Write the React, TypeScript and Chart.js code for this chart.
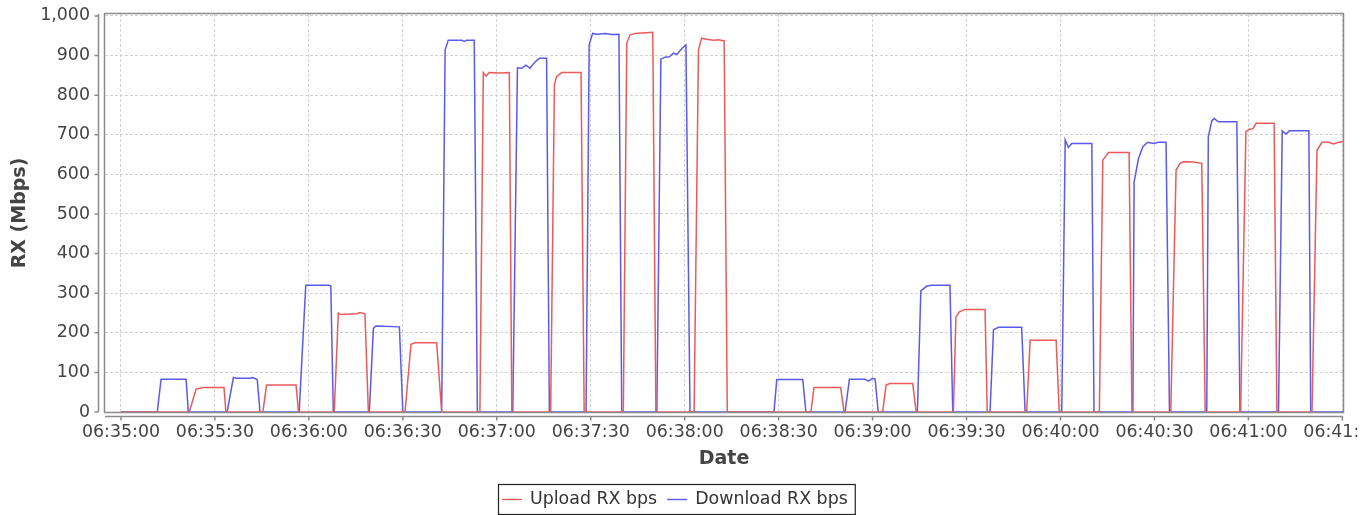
import React, { useEffect, useRef } from "react";
import { Chart, registerables } from "chart.js";

Chart.register(...registerables);

// seconds after 06:35:00
const START_CLOCK_SECONDS = 6 * 3600 + 35 * 60;
const xMinSeconds = -5.1;
const xMaxSeconds = 390.2;
const xTickSeconds = [0, 30, 60, 90, 120, 150, 180, 210, 240, 270, 300, 330, 360, 390];
const yTickValues = [0, 100, 200, 300, 400, 500, 600, 700, 800, 900, 1000];
const yMax = 1005;

const seriesLabels = ["Upload RX bps", "Download RX bps"];
const seriesColors = ["#ec5a5a", "#5a5aec"];

// [seconds after 06:35:00, Mbps]
const uploadPoints: [number, number][] = [
  [0, 0], [21.8, 0], [24.0, 58], [26.3, 62], [32.9, 62], [33.5, 0],
  [45.3, 0], [46.5, 68], [55.9, 68], [56.7, 0],
  [68.1, 0], [69.4, 250], [70.2, 246], [75.3, 248], [76.3, 251], [77.9, 248], [79.0, 0],
  [90.7, 0], [92.6, 171], [93.9, 175], [100.8, 175], [102.4, 0],
  [114.6, 0], [115.7, 857], [116.6, 848], [117.6, 857], [121.0, 856], [124.0, 857], [124.8, 0],
  [137.2, 0], [138.4, 826], [139.1, 847], [140.7, 857], [146.9, 857], [147.9, 0],
  [160.4, 0], [161.5, 931], [162.5, 952], [164.1, 956], [169.8, 959], [170.8, 0],
  [183.0, 0], [184.4, 914], [185.4, 944], [187.0, 941], [189.2, 939], [190.8, 940], [192.6, 937], [193.6, 0],
  [220.3, 0], [221.3, 62], [229.8, 62], [230.9, 0],
  [243.2, 0], [244.3, 68], [245.5, 72], [252.8, 72], [253.9, 0],
  [265.8, 0], [266.6, 240], [267.7, 253], [269.5, 259], [275.9, 259], [276.6, 0],
  [289.2, 0], [290.3, 181], [298.6, 181], [299.6, 0],
  [312.4, 0], [313.5, 636], [315.3, 655], [321.9, 655], [322.8, 0],
  [335.2, 0], [336.9, 611], [338.2, 628], [339.2, 632], [342.4, 631], [345.1, 628], [346.2, 0],
  [357.5, 0], [359.2, 708], [360.3, 714], [361.4, 715], [362.5, 729], [368.2, 729], [369.1, 0],
  [380.3, 0], [381.9, 661], [383.5, 681], [385.6, 681], [387.2, 677], [388.8, 681], [390.2, 683],
];

const downloadPoints: [number, number][] = [
  [0, 0], [11.6, 0], [12.8, 83], [20.8, 83], [21.5, 0],
  [33.9, 0], [35.9, 87], [36.9, 85], [41.2, 85], [42.1, 87], [43.5, 82], [44.4, 0],
  [56.9, 0], [59.0, 320], [66.5, 320], [67.0, 318], [67.8, 0],
  [79.3, 0], [80.6, 211], [81.4, 217], [88.9, 215], [90.0, 0],
  [102.4, 0], [103.5, 914], [104.5, 939], [108.8, 939], [109.6, 936], [110.4, 939], [112.8, 939], [113.8, 0],
  [125.1, 0], [126.6, 869], [128.0, 868], [129.3, 876], [130.6, 868], [132.2, 884], [133.6, 893], [135.9, 893], [136.8, 0],
  [148.5, 0], [149.5, 927], [150.6, 956], [151.9, 954], [154.6, 956], [156.8, 953], [159.0, 954], [159.9, 0],
  [171.1, 0], [172.4, 891], [173.7, 896], [175.1, 897], [176.4, 906], [177.5, 903], [179.1, 918], [180.4, 927], [181.7, 0],
  [208.5, 0], [209.4, 82], [217.7, 82], [218.7, 0],
  [231.2, 0], [232.6, 83], [237.6, 83], [238.6, 78], [240.0, 85], [240.8, 83], [241.8, 0],
  [254.3, 0], [255.4, 306], [257.3, 318], [258.9, 320], [264.7, 320], [265.6, 0],
  [277.5, 0], [278.6, 208], [280.2, 214], [287.6, 214], [288.7, 0],
  [300.4, 0], [301.5, 687], [302.5, 668], [303.6, 678], [310.0, 678], [310.7, 0],
  [323.1, 0], [323.5, 581], [324.9, 640], [326.3, 670], [327.8, 681], [329.7, 678], [331.3, 681], [333.7, 681], [334.8, 0],
  [346.7, 0], [347.2, 695], [348.3, 735], [349.1, 741], [350.4, 733], [356.3, 733], [357.3, 0],
  [369.6, 0], [370.8, 710], [372.0, 702], [373.1, 710], [379.3, 710], [379.9, 0], [390.2, 0],
];

const FONT = '"DejaVu Sans", "Liberation Sans", sans-serif';
const TEXT_COLOR = "#444444";
const AXIS_COLOR = "#8c8c8c";
const GRID_COLOR = "#d2d2d2";

function clock(sec: number): string {
  const t = Math.round(START_CLOCK_SECONDS + sec);
  const h = Math.floor(t / 3600);
  const m = Math.floor((t % 3600) / 60);
  const s = t % 60;
  const p = (n: number) => String(n).padStart(2, "0");
  return `${p(h)}:${p(m)}:${p(s)}`;
}

const framePlugin = {
  id: "frame",
  beforeDraw(chart: any) {
    const { ctx, width, height } = chart;
    ctx.save();
    ctx.fillStyle = "#ffffff";
    ctx.fillRect(0, 0, width, height);
    ctx.restore();
  },
  afterDraw(chart: any) {
    const { ctx, chartArea: a, scales, width } = chart;
    ctx.save();
    // the original image cuts the last date label at its right edge
    ctx.fillStyle = "#ffffff";
    ctx.fillRect(1357.5, a.bottom + 8, width - 1357.5, 40);

    // plot outline
    ctx.strokeStyle = AXIS_COLOR;
    ctx.lineWidth = 1.5;
    ctx.strokeRect(a.left - 0.5, a.top - 0.5, a.right - a.left + 1, a.bottom - a.top + 1);

    // offset axis lines with tick marks
    const yAxisX = a.left - 6.5;
    ctx.beginPath();
    ctx.moveTo(yAxisX, a.top);
    ctx.lineTo(yAxisX, a.bottom);
    for (const v of yTickValues) {
      const py = scales.y.getPixelForValue(v);
      ctx.moveTo(yAxisX - 4, py);
      ctx.lineTo(yAxisX, py);
    }
    const xAxisY = a.bottom + 4.5;
    ctx.moveTo(a.left, xAxisY);
    ctx.lineTo(a.right, xAxisY);
    for (const s of xTickSeconds) {
      const px = scales.x.getPixelForValue(s);
      ctx.moveTo(px, xAxisY);
      ctx.lineTo(px, xAxisY + 4);
    }
    ctx.stroke();

    // legend
    ctx.font = `17.4px ${FONT}`;
    const datasets = chart.data.datasets;
    const widths = datasets.map((d: any) => ctx.measureText(d.label).width);
    const sample = 20, gap = 8, between = 10, padL = 4, padR = 7;
    let total = padL + padR;
    widths.forEach((w: number, i: number) => {
      total += sample + gap + w + (i > 0 ? between : 0);
    });
    const boxLeft = Math.round(676.5 - total / 2);
    const boxTop = 484, boxH = 30;
    ctx.strokeStyle = "#222222";
    ctx.lineWidth = 1.2;
    ctx.strokeRect(boxLeft + 0.5, boxTop + 0.5, total, boxH);
    let x = boxLeft + padL;
    const cy = boxTop + boxH / 2 + 0.5;
    ctx.textBaseline = "middle";
    ctx.textAlign = "left";
    datasets.forEach((d: any, i: number) => {
      if (i > 0) x += between;
      ctx.strokeStyle = d.borderColor;
      ctx.lineWidth = 1.4;
      ctx.beginPath();
      ctx.moveTo(x, cy);
      ctx.lineTo(x + sample, cy);
      ctx.stroke();
      x += sample + gap;
      ctx.fillStyle = "#333333";
      ctx.fillText(d.label, x, cy);
      x += widths[i];
    });
    ctx.restore();
  },
};

export default function App() {
  const canvasRef = useRef<HTMLCanvasElement | null>(null);

  useEffect(() => {
    document.body.style.margin = "0";
    const canvas = canvasRef.current;
    if (!canvas) return;
    Chart.defaults.font.family = FONT;

    const chart = new Chart(canvas, {
      type: "line",
      data: {
        datasets: [
          {
            label: seriesLabels[0],
            data: uploadPoints.map(([x, y]) => ({ x, y })),
            borderColor: seriesColors[0],
            backgroundColor: seriesColors[0],
            borderWidth: 1.5,
            pointRadius: 0,
            tension: 0,
            fill: false,
          },
          {
            label: seriesLabels[1],
            data: downloadPoints.map(([x, y]) => ({ x, y })),
            borderColor: seriesColors[1],
            backgroundColor: seriesColors[1],
            borderWidth: 1.5,
            pointRadius: 0,
            tension: 0,
            fill: false,
          },
        ],
      },
      options: {
        responsive: false,
        animation: false,
        devicePixelRatio: 1,
        layout: { padding: { top: 14, right: 29, bottom: 43, left: 0 } },
        plugins: {
          legend: { display: false },
          tooltip: { enabled: false },
        },
        scales: {
          x: {
            type: "linear",
            min: xMinSeconds,
            max: xMaxSeconds,
            afterBuildTicks: (scale: any) => {
              scale.ticks = xTickSeconds.map((v) => ({ value: v }));
            },
            afterFit: (scale: any) => {
              scale.height = 60;
              scale.paddingLeft = 0;
              scale.paddingRight = 0;
              scale.paddingTop = 0;
              scale.paddingBottom = 0;
            },
            ticks: {
              autoSkip: false,
              maxRotation: 0,
              minRotation: 0,
              padding: 10,
              color: TEXT_COLOR,
              font: { size: 17.4, family: FONT },
              callback: (v: any) => clock(Number(v)),
            },
            grid: {
              color: GRID_COLOR,
              lineWidth: 1,
              drawTicks: false,
            },
            border: { display: false, dash: [3, 2] },
            title: {
              display: true,
              text: "Date",
              color: TEXT_COLOR,
              font: { size: 19, weight: "bold", family: FONT },
              padding: { top: 0, bottom: 1.6 },
            },
          },
          y: {
            type: "linear",
            min: 0,
            max: yMax,
            afterBuildTicks: (scale: any) => {
              scale.ticks = yTickValues.map((v) => ({ value: v }));
            },
            afterFit: (scale: any) => {
              scale.width = 105;
              scale.paddingLeft = 0;
              scale.paddingRight = 0;
              scale.paddingTop = 0;
              scale.paddingBottom = 0;
            },
            ticks: {
              padding: 15,
              color: TEXT_COLOR,
              font: { size: 17.4, family: FONT },
              callback: (v: any) => Number(v).toLocaleString("en-US"),
            },
            grid: {
              color: GRID_COLOR,
              lineWidth: 1,
              drawTicks: false,
            },
            border: { display: false, dash: [3, 2] },
            title: {
              display: true,
              text: "RX (Mbps)",
              color: TEXT_COLOR,
              font: { size: 19, weight: "bold", family: FONT },
              padding: { top: 8.6, bottom: 0 },
            },
          },
        },
      },
      plugins: [framePlugin],
    });

    return () => chart.destroy();
  }, []);

  return (
    <div style={{ position: "fixed", left: 0, top: 0, width: 1372, height: 515, overflow: "hidden", background: "#fff" }}>
      <canvas ref={canvasRef} width={1372} height={515} style={{ display: "block", width: 1372, height: 515 }} />
    </div>
  );
}
